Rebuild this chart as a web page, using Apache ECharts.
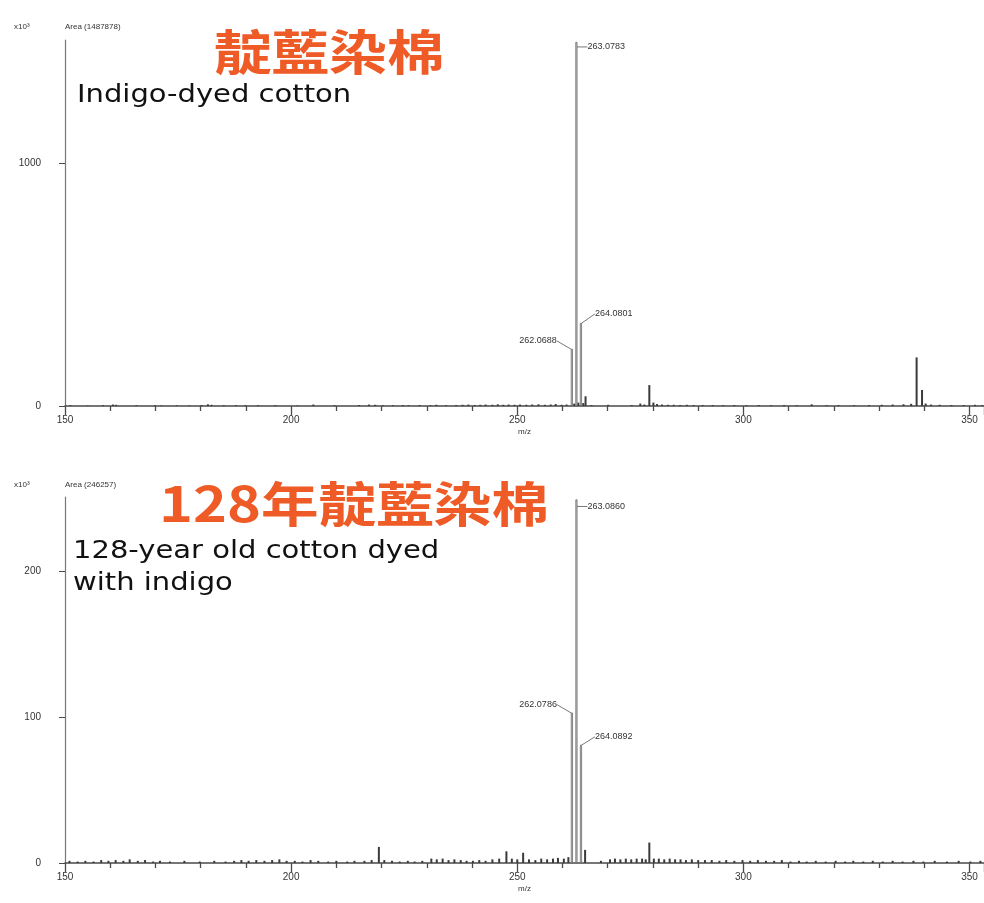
<!DOCTYPE html>
<html><head><meta charset="utf-8">
<script src="https://cdn.jsdelivr.net/npm/echarts@6/dist/echarts.min.js"></script>
<style>html,body{margin:0;padding:0;background:#fff}#c{width:984px;height:903px}</style>
</head><body><div id="c"></div>
<script>
// ---------------- DATA ----------------
const xTicks = [150, 200, 250, 300, 350];
// Top panel: indigo-dyed cotton (x10^3)
const topPeakMz  = [262.0688, 263.0783, 264.0801];
const topPeakInt = [235, 1498, 342];
const topNoise = [
 [151.2,3],[155.0,2],[158.4,3],[160.6,6],[161.3,5],[165.8,3],[169.9,3],[171.3,2],[174.7,3],[177.5,2],
 [180.2,4],[181.6,7],[182.4,5],[185.1,3],[187.8,3],[189.9,3],[192.7,3],[196.5,3],[201.4,2],[204.9,6],
 [209.6,3],[215.0,4],[217.2,6],[218.6,5],[220.3,3],[222.5,3],[224.7,4],[226.0,3],[228.4,4],[230.8,3],
 [232.1,5],[234.3,3],[236.5,4],[237.9,5],[239.2,6],[240.6,4],[241.8,5],[243.0,6],[244.5,5],[245.7,7],
 [246.9,5],[248.1,6],[249.4,5],[250.6,6],[252.0,5],[253.3,6],[254.7,7],[256.1,5],[257.4,6],[258.5,8],
 [259.8,5],[260.9,6],[262.6,10],[263.5,14],[264.6,12],[265.1,40],[266.4,4],[270.1,5],[275.3,4],[277.2,10],
 [278.1,6],[279.2,86],[280.1,14],[280.9,8],[282.0,6],[283.3,5],[284.6,5],[286.0,4],[287.5,5],[289.0,4],
 [291.0,4],[293.2,4],[295.5,3],[298.0,4],[300.7,3],[303.4,4],[306.1,3],[309.0,4],[311.8,3],[315.1,7],
 [318.4,3],[321.0,4],[324.5,3],[327.8,4],[330.6,5],[333.0,6],[335.4,7],[337.1,9],[338.3,200],[339.5,66],
 [340.3,10],[341.5,6],[343.4,5],[346.0,4],[348.7,4],[351.2,5],[352.8,4]
];
// Bottom panel: 128-year old cotton dyed with indigo (x10^3)
const botPeakMz  = [262.0786, 263.0860, 264.0892];
const botPeakInt = [103, 249, 81];
const botNoise = [
 [151.0,1.5],[152.8,1],[154.5,1.5],[156.3,1],[158.0,2],[159.6,1.5],[161.2,2],[162.9,1.5],[164.3,2.5],[166.1,1.5],
 [167.7,2],[169.5,1],[171.0,1.5],[173.2,1],[176.4,1.5],[179.8,1],[183.0,1.5],[185.5,1],[187.4,1.5],[189.0,2],
 [190.6,1.5],[192.3,2],[194.1,1.5],[195.8,2],[197.4,2.5],[199.0,1.5],[200.8,1.5],[202.5,1],[204.3,2],[206.0,1.5],
 [208.2,1],[210.0,1.5],[212.4,1],[214.0,1.5],[216.2,1.5],[217.8,2],[219.4,11],[220.6,2],[222.3,1.5],[224.0,1],
 [225.8,1.5],[227.3,1],[229.0,1.5],[231.0,3],[232.2,2.5],[233.5,3],[234.8,2],[236.1,2.5],[237.5,2],[238.8,1.5],
 [240.2,1.5],[241.6,2],[243.0,1.5],[244.5,2.5],[246.0,3],[247.6,8],[248.8,3],[250.0,2.5],[251.3,7],[252.6,2.5],
 [254.0,2],[255.3,3],[256.6,2.5],[257.9,3],[259.0,3.5],[260.3,3],[261.3,4],[265.0,9],[268.5,1.5],[270.5,2.5],
 [271.6,3],[272.8,2.5],[274.0,3],[275.2,2.5],[276.4,3],[277.6,3],[278.4,2.5],[279.2,14],[280.2,3],[281.3,3],
 [282.5,2.5],[283.7,3],[284.9,2.5],[286.1,2.5],[287.3,2],[288.6,2.5],[290.0,2],[291.5,2],[293.0,2],[294.7,1.5],
 [296.2,2],[298.0,1.5],[299.8,2],[301.5,1.5],[303.2,2],[305.0,1.5],[306.8,1.5],[308.5,2],[310.4,1],[312.3,1.5],
 [314.0,1],[316.0,1.5],[318.2,1],[320.4,1.5],[322.5,1],[324.3,1.5],[326.5,1],[328.6,1.5],[330.8,1],[333.0,1.5],
 [335.2,1],[337.6,1.5],[339.8,1],[342.3,1.5],[345.0,1],[347.6,1.5],[350.2,1],[352.4,1.5]
];
const topTitleZh = '靛藍染棉';
const topTitleEn = 'Indigo-dyed cotton';
const botTitleZh = '128年靛藍染棉';
const botTitleEn = '128-year old cotton dyed\nwith indigo';
const topArea = 'Area (1487878)';
const botArea = 'Area (246257)';

// ---------------- STYLE / LAYOUT ----------------
const ORANGE = '#EF5B26';
const AX = '#4a4a4a';
// label placement for the three annotated peaks [side, dx, dy]
const topPlace = [['left', -14, -8], ['right', 10, 5], ['right', 13, -9]];
const botPlace = [['left', -14, -8], ['right', 10, 7], ['right', 13, -8]];

function buildData(noise, peakMz, peakInt) {
  const d = noise.map(p => ({ value: [p[0], p[1]] }));
  peakMz.forEach((mz, i) => d.push({
    value: [mz, peakInt[i]],
    itemStyle: { color: '#cfcfcf', borderColor: '#5a5a5a', borderWidth: 0.7 },
    label: { show: true, formatter: mz.toFixed(4) },
    labelLine: { show: true }
  }));
  return d;
}
function layoutFn(noiseLen, place) {
  return function (p) {
    const i = p.dataIndex - noiseLen;
    if (i < 0 || !place[i]) return {};
    const r = p.rect, pl = place[i];
    if (pl[0] === 'left') return { x: r.x + pl[1], y: r.y + pl[2], align: 'right', verticalAlign: 'middle' };
    return { x: r.x + r.width + pl[1], y: r.y + pl[2], align: 'left', verticalAlign: 'middle' };
  };
}
function xAxisCfg(gi) {
  return {
    type: 'value', gridIndex: gi, min: 150, max: 353.2, interval: 50,
    name: 'm/z', nameLocation: 'middle', nameGap: 22,
    nameTextStyle: { fontSize: 8, color: '#333', fontFamily: 'Liberation Sans' },
    axisLine: { show: true, onZero: false, lineStyle: { color: AX, width: 1.5 } },
    axisTick: { show: true, inside: false, length: 9, lineStyle: { color: AX, width: 1.3 } },
    minorTick: { show: true, splitNumber: 5, length: 5, lineStyle: { color: AX, width: 1.3 } },
    axisLabel: { show: true, margin: 9, fontSize: 10, color: '#333', fontFamily: 'Liberation Sans',
      showMaxLabel: false, formatter: v => xTicks.indexOf(v) >= 0 ? String(v) : '' },
    splitLine: { show: false }
  };
}
function yAxisCfg(gi, max, interval) {
  return {
    type: 'value', gridIndex: gi, min: 0, max: max, interval: interval,
    axisLine: { show: true, lineStyle: { color: '#777', width: 1.2 } },
    axisTick: { show: true, length: 6, lineStyle: { color: AX } },
    axisLabel: { show: true, margin: 24, fontSize: 10, color: '#333', fontFamily: 'Liberation Sans',
      showMaxLabel: false, formatter: v => String(v) },
    splitLine: { show: false }
  };
}
function zhText(text, x, y) {
  return { type: 'text', x: x, y: y, scaleX: 1.2, z: 10,
    style: { text: text, fontFamily: 'Noto Sans CJK TC', fontWeight: 'bold', fontSize: 48, fill: ORANGE } };
}
function enText(text, x, y) {
  return { type: 'text', x: x, y: y, scaleX: 1.16, z: 10,
    style: { text: text, fontFamily: 'DejaVu Sans', fontSize: 25, lineHeight: 32, fill: '#111' } };
}
const chart = echarts.init(document.getElementById('c'), null, { renderer: 'canvas' });
const titleBase = { textStyle: { fontFamily: 'Liberation Sans', fontSize: 8, color: '#333', fontWeight: 'normal' } };
chart.setOption({
  backgroundColor: '#ffffff',
  animation: false,
  title: [
    { text: 'x10³', left: 9, top: 18, ...titleBase },
    { text: topArea, left: 60, top: 18, ...titleBase },
    { text: 'x10³', left: 9, top: 476, ...titleBase },
    { text: botArea, left: 60, top: 476, ...titleBase }
  ],
  graphic: [
    zhText(topTitleZh, 214, 28),
    enText(topTitleEn, 77, 79),
    zhText(botTitleZh, 159, 480),
    enText(botTitleEn, 73, 535)
  ],
  grid: [
    { left: 65, right: 0, top: 40, height: 366 },
    { left: 65, right: 0, top: 497, height: 366 }
  ],
  xAxis: [xAxisCfg(0), xAxisCfg(1)],
  yAxis: [yAxisCfg(0, 1506, 1000), yAxisCfg(1, 250.7, 100)],
  series: [
    {
      type: 'bar', xAxisIndex: 0, yAxisIndex: 0, barWidth: 2,
      itemStyle: { color: '#3a3a3a' },
      label: { show: false, fontSize: 9, color: '#333', fontFamily: 'Liberation Sans' },
      labelLine: { show: false, lineStyle: { color: '#555', width: 0.8 } },
      labelLayout: layoutFn(topNoise.length, topPlace),
      data: buildData(topNoise, topPeakMz, topPeakInt)
    },
    {
      type: 'bar', xAxisIndex: 1, yAxisIndex: 1, barWidth: 2,
      itemStyle: { color: '#3a3a3a' },
      label: { show: false, fontSize: 9, color: '#333', fontFamily: 'Liberation Sans' },
      labelLine: { show: false, lineStyle: { color: '#555', width: 0.8 } },
      labelLayout: layoutFn(botNoise.length, botPlace),
      data: buildData(botNoise, botPeakMz, botPeakInt)
    }
  ]
});
</script></body></html>
